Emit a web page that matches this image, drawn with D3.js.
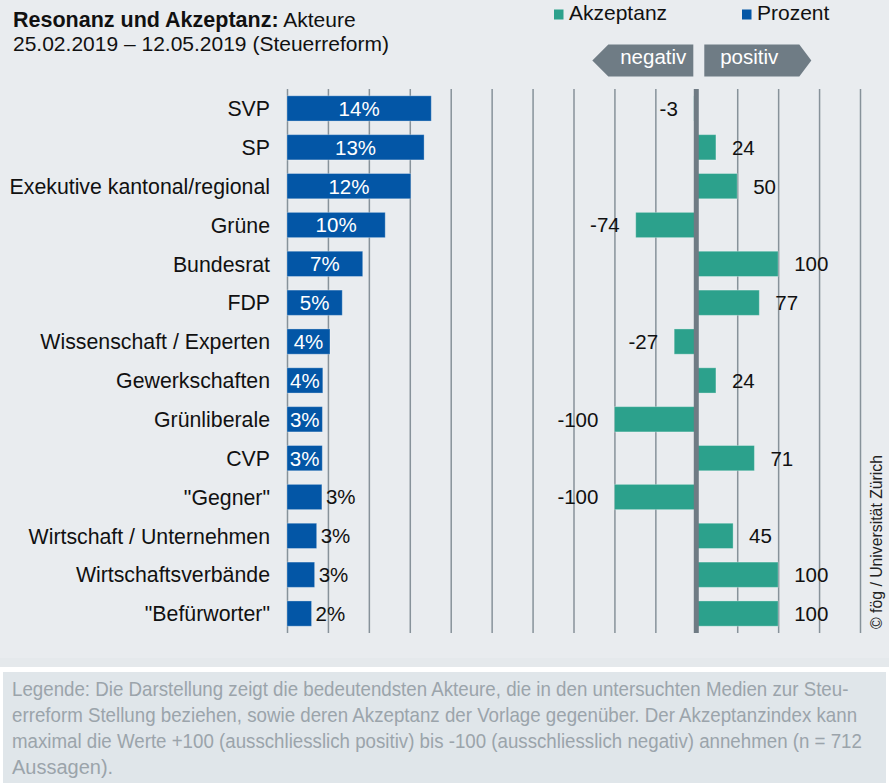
<!DOCTYPE html>
<meta charset="utf-8">
<title>Resonanz und Akzeptanz: Akteure</title>
<script src="https://cdn.jsdelivr.net/npm/d3@7"></script>
<body style="margin: 0; background: #fff;">
  <div id="chart"></div>
</body>
<script>
// actors, top to bottom
actors = ["SVP", "SP", "Exekutive kantonal/regional", "Grüne", "Bundesrat", "FDP",
  "Wissenschaft / Experten", "Gewerkschaften", "Grünliberale", "CVP", "\"Gegner\"",
  "Wirtschaft / Unternehmen", "Wirtschaftsverbände", "\"Befürworter\""]
// share of statements (Prozent)
prozent = [14.1, 13.4, 12.1, 9.6, 7.4, 5.4, 4.2, 3.5, 3.46, 3.45, 3.41, 2.9, 2.7, 2.4]
// acceptance index (-100 .. +100)
akzeptanz = [-3, 24, 50, -74, 100, 77, -27, 24, -100, 71, -100, 45, 100, 100]
gridValues = d3.range(-500, 201, 50)
legendLines = [
  "Legende: Die Darstellung zeigt die bedeutendsten Akteure, die in den untersuchten Medien zur Steu-",
  "erreform Stellung beziehen, sowie deren Akzeptanz der Vorlage gegenüber. Der Akzeptanzindex kann",
  "maximal die Werte +100 (ausschliesslich positiv) bis -100 (ausschliesslich negativ) annehmen (n = 712",
  "Aussagen)."
]
// line widths of the condensed footnote face, px (last line left as is)
legendWidths = [837, 846, 850, null]

colorProzent = "#0356a6"
colorAkzeptanz = "#2ca18c"
font = "'Liberation Sans', Arial, Helvetica, sans-serif"
width = 889
height = 783

rows = actors.map((a, i) => ({actor: a, p: prozent[i], a: akzeptanz[i]}))

y = d3.scaleBand().domain(actors).range([89, 633]).paddingInner(0.35).paddingOuter(0.175)
xA = d3.scaleLinear().domain([-500, 200]).range([287, 860])
xP = d3.scaleLinear().domain([0, 56]).range([287, 860])

svg = d3.select("#chart").append("svg")
    .attr("width", width)
    .attr("height", height)
    .style("display", "block")
    .style("font-family", font)

// backgrounds
svg.append("rect").attr("width", width).attr("height", 667).attr("fill", "#e9ecef")
svg.append("rect").attr("y", 658).attr("width", width).attr("height", 9).attr("fill", "#e5e9ec")
svg.append("rect").attr("x", 3).attr("y", 672).attr("width", width - 6).attr("height", 111).attr("fill", "#e0e6ea")

// title
title = svg.append("text").attr("x", 13).attr("y", 27).attr("font-size", 21).attr("fill", "#111")
title.append("tspan").attr("font-weight", "bold").attr("font-size", 21.5).text("Resonanz und Akzeptanz:")
title.append("tspan").text(" Akteure")
svg.append("text").attr("x", 13).attr("y", 51).attr("font-size", 21).attr("fill", "#111")
    .text("25.02.2019 – 12.05.2019 (Steuerreform)")

// legend
legend = svg.append("g").selectAll("g")
  .data([["Akzeptanz", colorAkzeptanz, 554], ["Prozent", colorProzent, 742]])
  .join("g")
    .attr("transform", d => `translate(${d[2]},0)`)
legend.append("rect").attr("y", 9.5).attr("width", 9.5).attr("height", 10).attr("fill", d => d[1])
legend.append("text").attr("x", 15).attr("y", 20).attr("font-size", 21).attr("fill", "#111").text(d => d[0])

// negativ / positiv arrows
x0 = xA(0)
arrowTop = 44.5, arrowBot = 76.5, arrowMid = (arrowTop + arrowBot) / 2
svg.append("path").attr("fill", "#6f7c85")
    .attr("d", `M${x0 - 104},${arrowMid} L${x0 - 88},${arrowTop} H${x0 - 3} V${arrowBot} H${x0 - 88} Z`)
svg.append("path").attr("fill", "#6f7c85")
    .attr("d", `M${x0 + 8},${arrowTop} H${x0 + 103} L${x0 + 115},${arrowMid} L${x0 + 103},${arrowBot} H${x0 + 8} Z`)
svg.append("text").attr("x", x0 - 43).attr("y", 64).attr("text-anchor", "middle")
    .attr("font-size", 20.5).attr("fill", "#fff").text("negativ")
svg.append("text").attr("x", x0 + 53).attr("y", 64).attr("text-anchor", "middle")
    .attr("font-size", 20.5).attr("fill", "#fff").text("positiv")

// gridlines
grid = svg.append("g")
    .attr("transform", `translate(0,${y.range()[1]})`)
    .call(d3.axisBottom(xA).tickValues(gridValues).tickSize(-(y.range()[1] - y.range()[0])).tickFormat(""))
grid.select(".domain").remove()
grid.selectAll("line").attr("stroke", "#87929a").attr("stroke-width", 1.5)

// Prozent bars
svg.append("g").selectAll("rect")
  .data(rows)
  .join("rect")
    .attr("x", xP(0))
    .attr("y", d => y(d.actor))
    .attr("width", d => xP(d.p) - xP(0))
    .attr("height", y.bandwidth())
    .attr("fill", colorProzent)
    .attr("stroke", "rgba(255,255,255,0.3)")
    .attr("stroke-width", 1)

// Akzeptanz bars
svg.append("g").selectAll("rect")
  .data(rows)
  .join("rect")
    .attr("x", d => xA(Math.min(0, d.a)))
    .attr("y", d => y(d.actor))
    .attr("width", d => Math.abs(xA(d.a) - xA(0)))
    .attr("height", y.bandwidth())
    .attr("fill", colorAkzeptanz)
    .attr("stroke", "rgba(255,255,255,0.3)")
    .attr("stroke-width", 1)

// zero line
svg.append("rect")
    .attr("x", x0 - 2.5).attr("y", y.range()[0])
    .attr("width", 5).attr("height", y.range()[1] - y.range()[0])
    .attr("fill", "#6f7b84")

// category labels
svg.append("g").selectAll("text")
  .data(rows)
  .join("text")
    .attr("x", 270)
    .attr("y", d => y(d.actor) + y.bandwidth() / 2)
    .attr("dy", "0.36em")
    .attr("text-anchor", "end")
    .attr("font-size", 21.3)
    .attr("fill", "#111")
    .text(d => d.actor)

// Prozent labels
inside = d => d.p >= 3.44
svg.append("g").selectAll("text")
  .data(rows)
  .join("text")
    .attr("x", d => inside(d) ? (xP(0) + xP(d.p)) / 2 : xP(d.p) + 4)
    .attr("y", d => y(d.actor) + y.bandwidth() / 2)
    .attr("dy", "0.36em")
    .attr("text-anchor", d => inside(d) ? "middle" : "start")
    .attr("font-size", 20.5)
    .attr("fill", d => inside(d) ? "#fff" : "#111")
    .text(d => d3.format(".0f")(d.p) + "%")

// Akzeptanz labels
svg.append("g").selectAll("text")
  .data(rows)
  .join("text")
    .attr("x", d => d.a >= 0 ? xA(d.a) + 16 : xA(d.a) - 16)
    .attr("y", d => y(d.actor) + y.bandwidth() / 2)
    .attr("dy", "0.36em")
    .attr("text-anchor", d => d.a >= 0 ? "start" : "end")
    .attr("font-size", 20.5)
    .attr("fill", "#111")
    .text(d => d.a)

// source
svg.append("text")
    .attr("transform", "translate(882,629) rotate(-90)")
    .attr("font-size", 15.8)
    .attr("fill", "#222")
    .text("© fög / Universität Zürich")

// footnote: no condensed face installed, so squeeze the regular one per line
note = svg.append("g").selectAll("text")
  .data(legendLines)
  .join("text")
    .attr("font-size", 20)
    .attr("fill", "#9ba4ab")
    .text(d => d)
note.each(function(d, i) {
  const k = legendWidths[i] ? legendWidths[i] / this.getComputedTextLength() : 1
  d3.select(this).attr("transform", `translate(12,${696 + i * 26}) scale(${k},1)`)
})
</script>
